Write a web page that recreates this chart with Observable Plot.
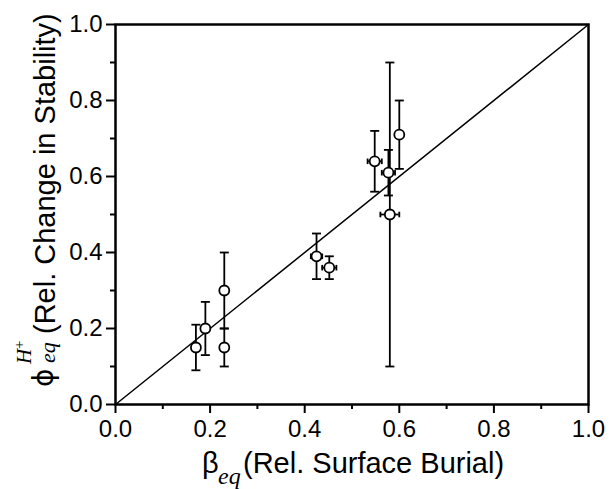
<!DOCTYPE html>
<html>
<head>
<meta charset="utf-8">
<script src="https://cdn.jsdelivr.net/npm/d3@7"></script>
<script src="https://cdn.jsdelivr.net/npm/@observablehq/plot@0.6"></script>
<style>
  html, body { margin: 0; padding: 0; background: #fff; }
  #chart { width: 610px; height: 489px; }
</style>
</head>
<body>
<div id="chart"></div>
<script>
// β_eq (relative surface burial)
const beta    = [0.17, 0.19, 0.23, 0.23, 0.425, 0.452, 0.548, 0.577, 0.58, 0.60];
// φ_eq^H+ (relative change in stability)
const phi     = [0.15, 0.20, 0.30, 0.15, 0.39, 0.36, 0.64, 0.61, 0.50, 0.71];
const phiErr  = [0.06, 0.07, 0.10, 0.05, 0.06, 0.03, 0.08, 0.06, 0.40, 0.09];
const betaErr = [0, 0, 0, 0, 0.012, 0.015, 0.015, 0.014, 0.02, 0];
const majorTicks = [0, 0.2, 0.4, 0.6, 0.8, 1.0];
const minorTicks = [0.1, 0.3, 0.5, 0.7, 0.9];
const diag = [0, 1];

const data = beta.map((b, i) => ({x: b, y: phi[i], ye: phiErr[i], xe: betaErr[i]}));
const withXe = data.filter(d => d.xe > 0);

const hcap = {draw(ctx, size) { const r = Math.sqrt(size / Math.PI); ctx.moveTo(-r, 0); ctx.lineTo(r, 0); }};
const vcap = {draw(ctx, size) { const r = Math.sqrt(size / Math.PI); ctx.moveTo(0, -r); ctx.lineTo(0, r); }};

const fmt = d3.format(".1f");
const sw = 1.8;

const chart = Plot.plot({
  width: 610,
  height: 489,
  marginLeft: 115,
  marginRight: 22,
  marginTop: 24,
  marginBottom: 85,
  style: {fontFamily: "'Liberation Sans', Arial, sans-serif", color: "black", background: "white"},
  x: {domain: [0, 1]},
  y: {domain: [0, 1]},
  marks: [
    Plot.line(diag, {x: d => d, y: d => d, stroke: "black", strokeWidth: 1.5}),
    Plot.ruleX(data, {x: "x", y1: d => d.y - d.ye, y2: d => d.y + d.ye, stroke: "black", strokeWidth: sw}),
    Plot.dot(data, {x: "x", y: d => d.y + d.ye, symbol: hcap, r: 4.5, fill: "none", stroke: "black", strokeWidth: sw}),
    Plot.dot(data, {x: "x", y: d => d.y - d.ye, symbol: hcap, r: 4.5, fill: "none", stroke: "black", strokeWidth: sw}),
    Plot.ruleY(withXe, {y: "y", x1: d => d.x - d.xe, x2: d => d.x + d.xe, stroke: "black", strokeWidth: sw}),
    Plot.dot(withXe, {x: d => d.x - d.xe, y: "y", symbol: vcap, r: 2.8, fill: "none", stroke: "black", strokeWidth: sw}),
    Plot.dot(withXe, {x: d => d.x + d.xe, y: "y", symbol: vcap, r: 2.8, fill: "none", stroke: "black", strokeWidth: sw}),
    Plot.dot(data, {x: "x", y: "y", r: 5, fill: "white", stroke: "black", strokeWidth: sw}),
    Plot.axisX({ticks: majorTicks, tickFormat: fmt, tickSize: 9, tickPadding: 6, fontSize: 24, label: null, strokeWidth: 2}),
    Plot.axisX({ticks: minorTicks, tickFormat: () => "", tickSize: 5, label: null, strokeWidth: 2}),
    Plot.axisY({ticks: majorTicks, tickFormat: fmt, tickSize: 9, tickPadding: 4, fontSize: 24, label: null, strokeWidth: 2}),
    Plot.axisY({ticks: minorTicks, tickFormat: () => "", tickSize: 5, label: null, strokeWidth: 2}),
    Plot.frame({stroke: "black", strokeWidth: 2.5})
  ]
});

document.getElementById("chart").appendChild(chart);

// Axis titles with sub/superscripts
const svg = d3.select(chart);
const serif = "'Liberation Serif', 'Times New Roman', serif";
const sans = "'Liberation Sans', Arial, sans-serif";

// X title
const xg = svg.append("g").attr("text-anchor", "start").attr("fill", "black");
xg.append("text").attr("x", 202).attr("y", 473).attr("font-family", sans).attr("font-size", 29).text("β");
xg.append("text").attr("x", 218).attr("y", 484).attr("font-family", serif).attr("font-style", "italic").attr("font-size", 24).text("eq");
xg.append("text").attr("x", 243).attr("y", 473).attr("font-family", sans).attr("font-size", 29).text("(Rel. Surface Burial)");

// Y title (rotated)
const yg = svg.append("g").attr("transform", "translate(55,387) rotate(-90)").attr("text-anchor", "start").attr("fill", "black");
yg.append("text").attr("x", 0).attr("y", -2).attr("font-family", "'DejaVu Sans', sans-serif").attr("font-size", 28).text("ϕ");
yg.append("text").attr("x", 23).attr("y", -24).attr("font-family", serif).attr("font-style", "italic").attr("font-size", 21).text("H");
yg.append("text").attr("x", 38).attr("y", -31).attr("font-family", serif).attr("font-size", 15).text("+");
yg.append("text").attr("x", 24).attr("y", 0).attr("font-family", serif).attr("font-style", "italic").attr("font-size", 22).text("eq");
yg.append("text").attr("x", 53).attr("y", 0).attr("font-family", sans).attr("font-size", 29).text("(Rel. Change in Stability)");
</script>
</body>
</html>
